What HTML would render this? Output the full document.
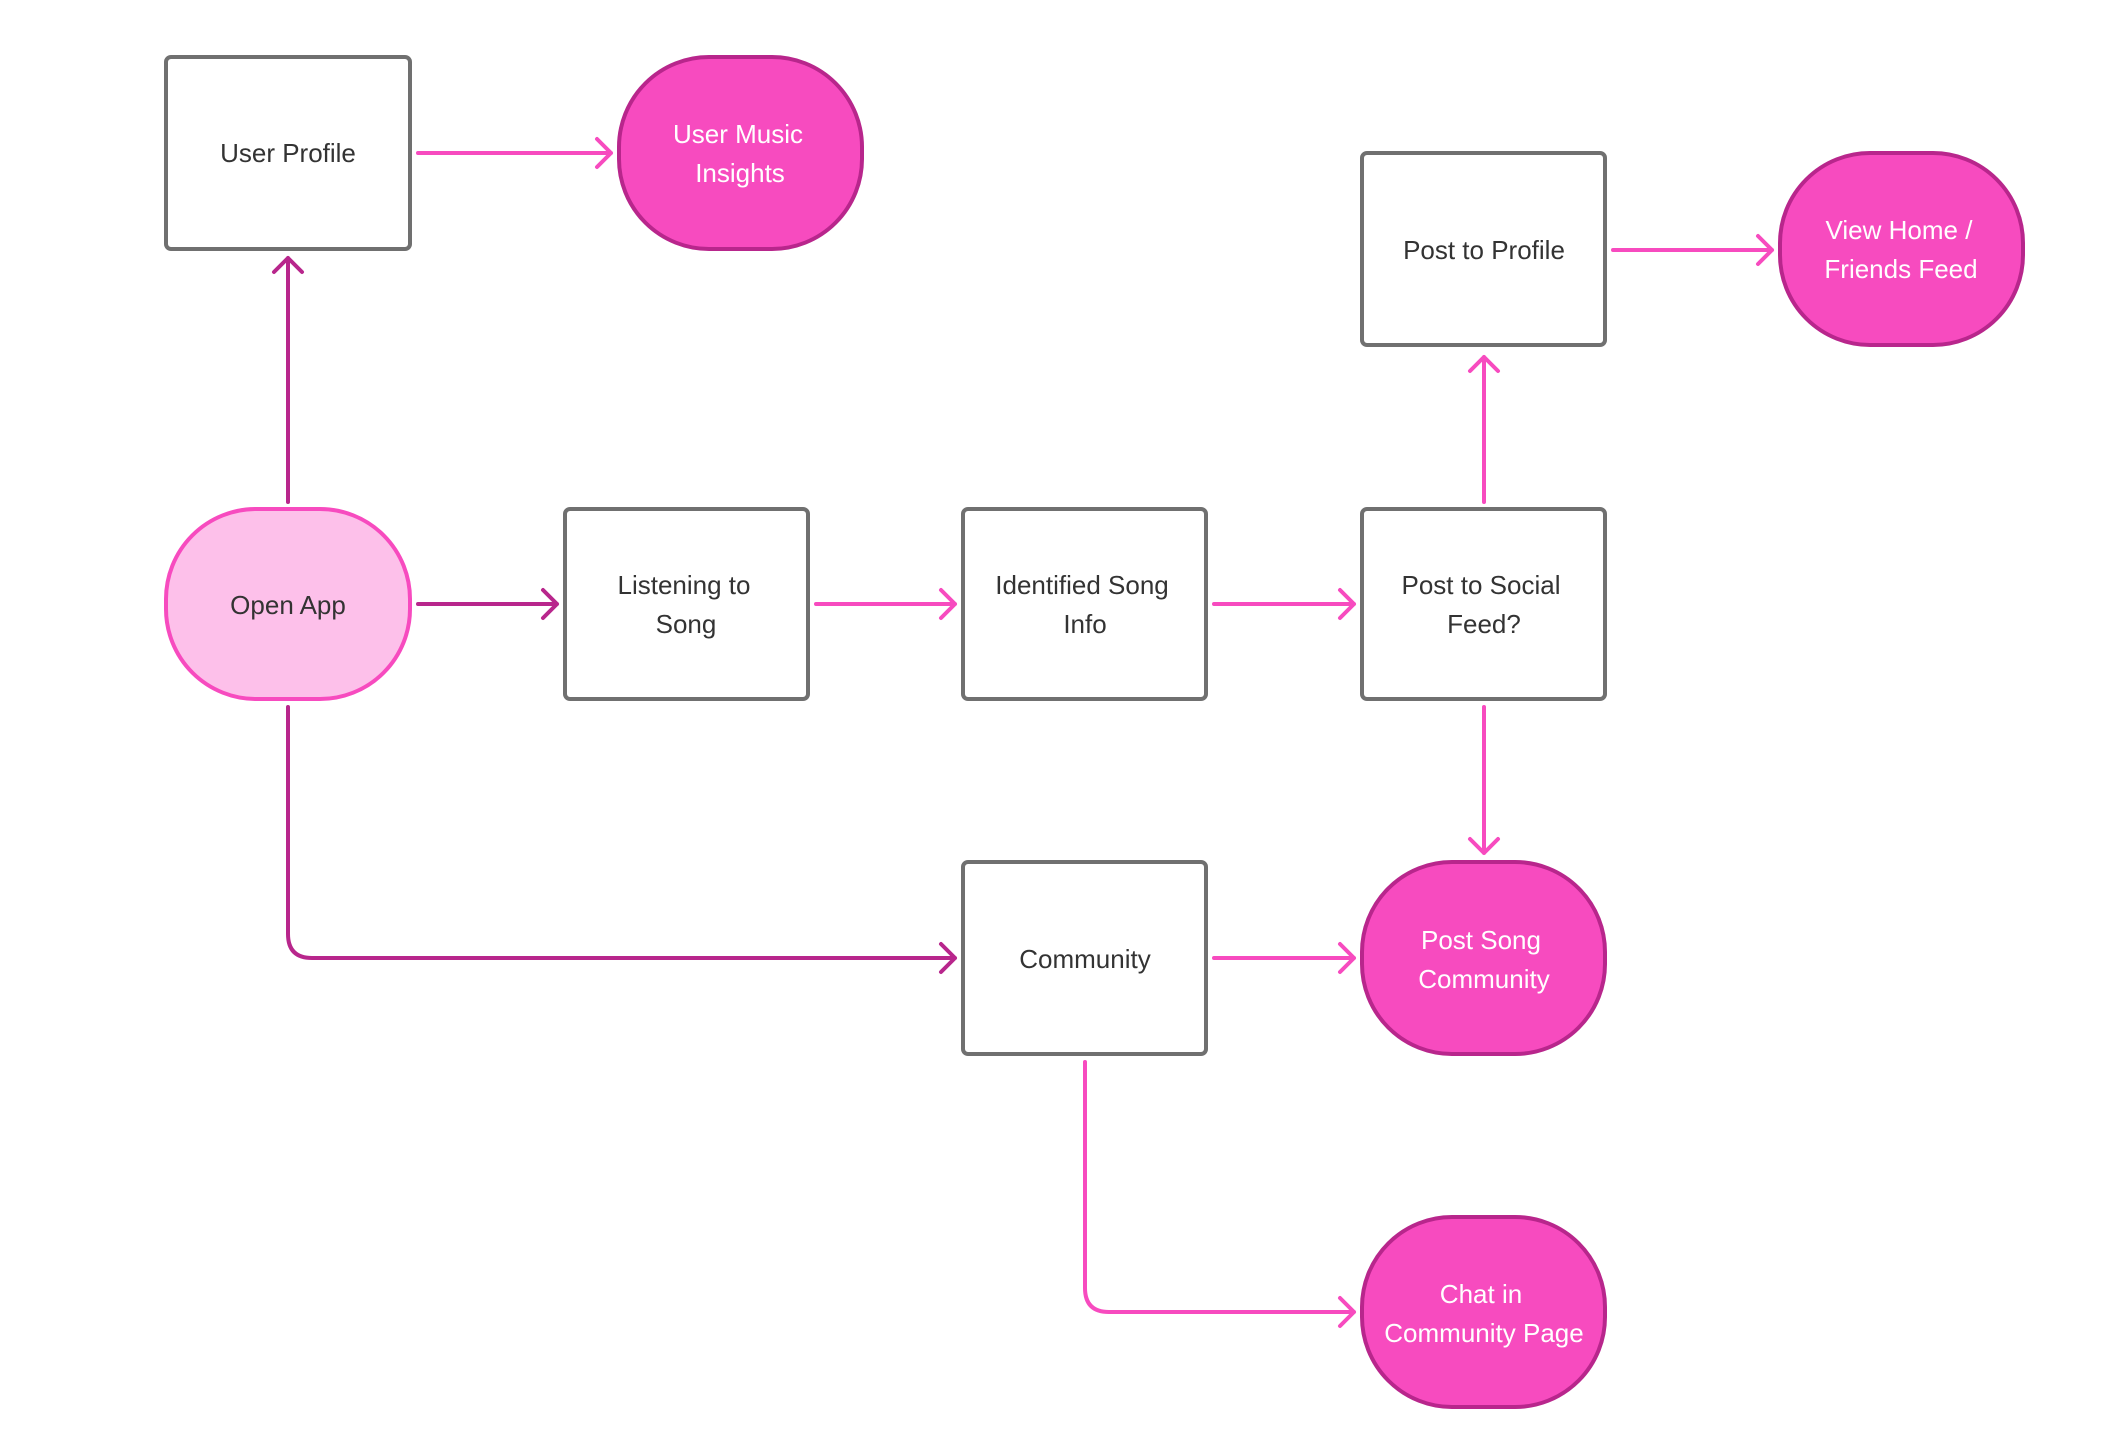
<!DOCTYPE html>
<html><head><meta charset="utf-8"><style>
html,body{margin:0;padding:0;background:#fff;width:2119px;height:1442px;overflow:hidden}
svg text{font-family:"Liberation Sans",sans-serif;font-size:26px;text-anchor:middle}
</style></head><body>
<svg width="2119" height="1442" viewBox="0 0 2119 1442" xmlns="http://www.w3.org/2000/svg">
<g fill="none" stroke-width="4" stroke-linecap="round" stroke-linejoin="round">
<!-- pink connectors -->
<g stroke="#f74bbf">
<path d="M418 153H611M597 139L611 153L597 167"/>
<path d="M816 604H955M941 590L955 604L941 618"/>
<path d="M1214 604H1354M1340 590L1354 604L1340 618"/>
<path d="M1484 502V357M1470 371L1484 357L1498 371"/>
<path d="M1613 250H1772M1758 236L1772 250L1758 264"/>
<path d="M1484 707V853M1470 839L1484 853L1498 839"/>
<path d="M1214 958H1354M1340 944L1354 958L1340 972"/>
<path d="M1085 1062V1288Q1085 1312 1109 1312H1354M1340 1298L1354 1312L1340 1326"/>
</g>
<g stroke="#b8268c">
<path d="M288 502V258M274 272L288 258L302 272"/>
<path d="M418 604H557M543 590L557 604L543 618"/>
<path d="M288 707V934Q288 958 312 958H955M941 944L955 958L941 972"/>
</g>
</g>
<!-- rect nodes -->
<g fill="#fff" stroke="#707070" stroke-width="4">
<rect x="166" y="57" width="244" height="192" rx="5"/>
<rect x="1362" y="153" width="243" height="192" rx="5"/>
<rect x="565" y="509" width="243" height="190" rx="5"/>
<rect x="963" y="509" width="243" height="190" rx="5"/>
<rect x="1362" y="509" width="243" height="190" rx="5"/>
<rect x="963" y="862" width="243" height="192" rx="5"/>
</g>
<g fill="#f74bbf" stroke="#b8268c" stroke-width="4">
<rect x="619" y="57" width="243" height="192" rx="90"/>
<rect x="1780" y="153" width="243" height="192" rx="90"/>
<rect x="1362" y="862" width="243" height="192" rx="90"/>
<rect x="1362" y="1217" width="243" height="190" rx="90"/>
</g>
<rect x="166" y="509" width="244" height="190" rx="90" fill="#fdc0ea" stroke="#f74bbf" stroke-width="4"/>
<g fill="#333">
<text x="288" y="162">User Profile</text>
<text x="1484" y="259">Post to Profile</text>
<text x="288" y="614">Open App</text>
<text x="684" y="594">Listening to</text><text x="686" y="633">Song</text>
<text x="1082" y="594">Identified Song</text><text x="1085" y="633">Info</text>
<text x="1481" y="594">Post to Social</text><text x="1484" y="633">Feed?</text>
<text x="1085" y="968">Community</text>
</g>
<g fill="#fff">
<text x="738" y="143">User Music</text><text x="740" y="182">Insights</text>
<text x="1899" y="239">View Home /</text><text x="1901" y="278">Friends Feed</text>
<text x="1481" y="949">Post Song</text><text x="1484" y="988">Community</text>
<text x="1481" y="1303">Chat in</text><text x="1484" y="1342">Community Page</text>
</g>
</svg>
</body></html>
